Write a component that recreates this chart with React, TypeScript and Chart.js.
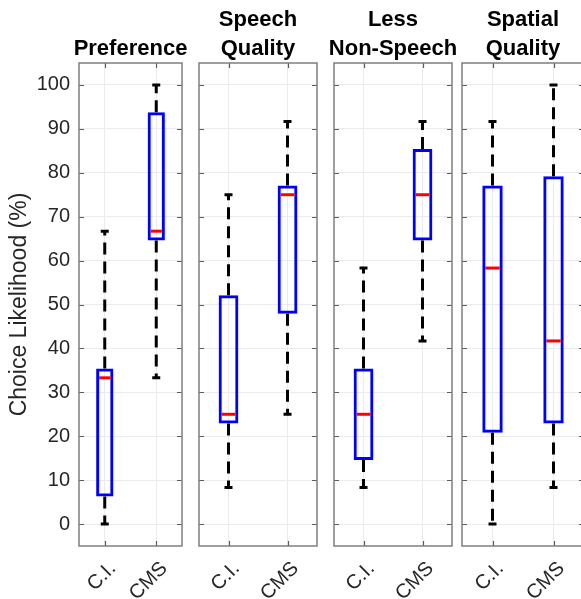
import { useEffect, useRef } from 'react';
import { Chart, registerables } from 'chart.js';

Chart.register(...registerables);

// ---------- data ----------
const panelTitles: string[][] = [
  ['', 'Preference'],
  ['Speech', 'Quality'],
  ['Less', 'Non-Speech'],
  ['Spatial', 'Quality'],
];
const categories = ['C.I.', 'CMS'];
// per panel: [C.I., CMS]
const whiskerLow = [[0, 33.3], [8.3, 25], [8.3, 41.7], [0, 8.3]];
const quartile1 = [[6.25, 64.6], [22.9, 47.9], [14.6, 64.6], [20.8, 22.9]];
const medians = [[33.3, 66.7], [25, 75], [25, 75], [58.3, 41.7]];
const quartile3 = [[35.4, 93.8], [52.1, 77.1], [35.4, 85.4], [77.1, 79.2]];
const whiskerHigh = [[66.7, 100], [75, 91.7], [58.3, 91.7], [91.7, 100]];
const yTicks = [0, 10, 20, 30, 40, 50, 60, 70, 80, 90, 100];
const yTitle = 'Choice Likelihood (%)';

// ---------- layout ----------
const H = 599;
const panelLeft = [79, 199, 334, 462];
const panelRight = [182, 317, 452, 584];
const sideW = [79, 60, 60, 60];
const FONT = 'Liberation Sans, Arial, Helvetica, sans-serif';

Chart.defaults.font.family = FONT;

function makePlugin(p: number) {
  return {
    id: 'boxExtras' + p,
    afterDatasetsDraw(chart: any) {
      const { ctx } = chart;
      const xs = chart.scales.x;
      const ys = chart.scales.y;
      const meta = chart.getDatasetMeta(0);
      ctx.save();
      categories.forEach((_, i) => {
        const x = xs.getPixelForValue(i);
        const bar: any = meta.data[i];
        const half = bar.width / 2;
        const yq1 = ys.getPixelForValue(quartile1[p][i]);
        const yq3 = ys.getPixelForValue(quartile3[p][i]);
        const yLo = ys.getPixelForValue(whiskerLow[p][i]);
        const yHi = ys.getPixelForValue(whiskerHigh[p][i]);
        const yMed = ys.getPixelForValue(medians[p][i]);
        ctx.strokeStyle = '#000000';
        ctx.lineWidth = 3;
        ctx.lineCap = 'butt';
        ctx.setLineDash([12, 7]);
        ctx.beginPath();
        ctx.moveTo(x, yq3);
        ctx.lineTo(x, yHi);
        ctx.stroke();
        ctx.beginPath();
        ctx.moveTo(x, yq1);
        ctx.lineTo(x, yLo);
        ctx.stroke();
        ctx.setLineDash([]);
        ctx.beginPath();
        ctx.moveTo(x - 4, yHi);
        ctx.lineTo(x + 4, yHi);
        ctx.moveTo(x - 4, yLo);
        ctx.lineTo(x + 4, yLo);
        ctx.stroke();
        ctx.strokeStyle = '#ff0000';
        ctx.beginPath();
        ctx.moveTo(x - half + 3, yMed);
        ctx.lineTo(x + half - 3, yMed);
        ctx.stroke();
      });
      ctx.restore();
    },
    afterDraw(chart: any) {
      const { ctx, chartArea } = chart;
      const { left, right, top, bottom } = chartArea;
      const xs = chart.scales.x;
      const ys = chart.scales.y;
      ctx.save();
      ctx.strokeStyle = '#5c5c5c';
      ctx.lineWidth = 1.2;
      ctx.beginPath();
      yTicks.forEach((v) => {
        const y = Math.round(ys.getPixelForValue(v)) + 0.5;
        ctx.moveTo(left, y);
        ctx.lineTo(left + 5, y);
        ctx.moveTo(right, y);
        ctx.lineTo(right - 5, y);
      });
      categories.forEach((_, i) => {
        const x = Math.round(xs.getPixelForValue(i)) + 0.5;
        ctx.moveTo(x, bottom);
        ctx.lineTo(x, bottom - 5);
        ctx.moveTo(x, top);
        ctx.lineTo(x, top + 5);
      });
      ctx.stroke();
      ctx.strokeStyle = '#7f7f7f';
      ctx.lineWidth = 1.5;
      ctx.strokeRect(left, top, right - left, bottom - top);
      ctx.restore();
    },
  };
}

function Panel({ p }: { p: number }) {
  const ref = useRef<HTMLCanvasElement>(null);
  const side = sideW[p];
  const width = side * 2 + (panelRight[p] - panelLeft[p]);
  useEffect(() => {
    const chart = new Chart(ref.current!, {
      type: 'bar',
      data: {
        labels: categories,
        datasets: [
          {
            data: categories.map((_, i) => [quartile1[p][i], quartile3[p][i]]) as any,
            backgroundColor: 'rgba(0,0,0,0)',
            borderColor: '#0000ff',
            borderWidth: 3,
            borderSkipped: false,
            barPercentage: 0.335,
            categoryPercentage: 1,
          },
        ],
      },
      options: {
        responsive: false,
        animation: false,
        layout: { padding: 0 },
        plugins: {
          legend: { display: false },
          tooltip: { enabled: false },
          title: {
            display: true,
            text: panelTitles[p],
            color: '#000000',
            font: { size: 22, weight: 'bold', lineHeight: '29px' as any, family: FONT },
            padding: { top: 5, bottom: 0 },
          },
        },
        scales: {
          x: {
            type: 'category',
            offset: true,
            grid: { offset: false, color: '#ebebeb', drawTicks: false, lineWidth: 1 },
            border: { display: false },
            ticks: {
              minRotation: 45,
              maxRotation: 45,
              padding: 11,
              labelOffset: 8,
              color: '#262626',
              font: { size: 20, family: FONT },
            },
            afterFit: (s: any) => {
              s.height = 53;
            },
          },
          y: {
            type: 'linear',
            position: 'left',
            min: -5,
            max: 105,
            afterBuildTicks: (s: any) => {
              s.ticks = yTicks.map((v) => ({ value: v }));
            },
            grid: { color: '#ebebeb', drawTicks: false, lineWidth: 1 },
            border: { display: false },
            ticks: {
              display: p === 0,
              padding: 9,
              color: '#262626',
              font: { size: 20, family: FONT },
            },
            title: {
              display: p === 0,
              text: yTitle,
              color: '#262626',
              font: { size: 23, family: FONT },
              padding: { top: 6, bottom: 0 },
            },
            afterFit: (s: any) => {
              s.width = side;
            },
          },
          y2: {
            type: 'linear',
            position: 'right',
            display: true,
            grid: { display: false },
            border: { display: false },
            ticks: { display: false },
            afterFit: (s: any) => {
              s.width = side;
            },
          },
        },
      } as any,
      plugins: [makePlugin(p)],
    });
    return () => chart.destroy();
  }, [p]);
  return (
    <div style={{ position: 'absolute', left: panelLeft[p] - side, top: 0, width, height: H }}>
      <canvas ref={ref} width={width} height={H} style={{ display: 'block' }} />
    </div>
  );
}

export default function App() {
  return (
    <div
      style={{
        position: 'absolute',
        left: 0,
        top: 0,
        width: 581,
        height: H,
        overflow: 'hidden',
        background: '#ffffff',
      }}
    >
      {[0, 1, 2, 3].map((p) => (
        <Panel key={p} p={p} />
      ))}
    </div>
  );
}
